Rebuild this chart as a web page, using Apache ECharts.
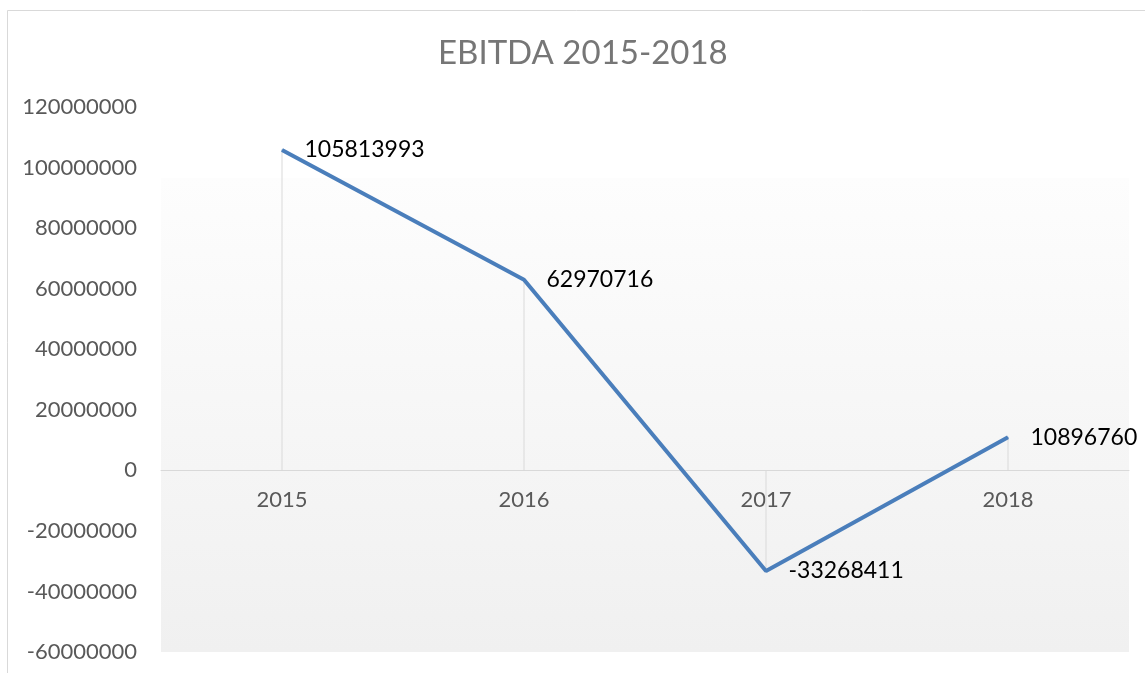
<!DOCTYPE html>
<html>
<head>
<meta charset="utf-8">
<script src="https://cdn.jsdelivr.net/npm/echarts@6/dist/echarts.min.js"></script>
<style>
  html, body { margin: 0; padding: 0; background: #fff; }
  #chart { width: 1145px; height: 673px; }
</style>
</head>
<body>
<div id="chart"></div>
<script>
// EBITDA per year
var years = ['2015', '2016', '2017', '2018'];
var ebitda = [105813993, 62970716, -33268411, 10896760];

var yMin = -60000000;
var yMax = 120000000;
var yStep = 20000000;

var gridTop = 107;
var gridBottom = 21;
var plotH = 673 - gridTop - gridBottom;
// move the category axis up to the zero line
var zeroOffset = -plotH * (0 - yMin) / (yMax - yMin);

var chart = echarts.init(document.getElementById('chart'));

var option = {
  backgroundColor: '#fff',
  animation: false,
  textStyle: { fontFamily: 'Lato' },
  title: {
    text: 'EBITDA 2015-2018',
    left: 433,
    top: 32,
    textStyle: { color: '#767676', fontSize: 33, fontWeight: 'normal', fontFamily: 'Lato' }
  },
  graphic: [{
    type: 'rect',
    shape: { x: 7.5, y: 10.5, width: 1300, height: 800 },
    style: { fill: 'none', stroke: '#d9d9d9', lineWidth: 1 },
    silent: true
  }],
  grid: {
    left: 161,
    right: 16,
    top: gridTop,
    bottom: gridBottom,
    outerBoundsMode: 'none',
    containLabel: false,
    show: true,
    borderWidth: 0,
    backgroundColor: {
      type: 'linear', x: 0, y: 0, x2: 0, y2: 1,
      colorStops: [
        { offset: 0, color: '#ffffff' },
        { offset: 0.13, color: '#ffffff' },
        { offset: 0.131, color: '#fdfdfd' },
        { offset: 1, color: '#f0f0f0' }
      ]
    }
  },
  xAxis: {
    type: 'category',
    data: years,
    boundaryGap: true,
    position: 'bottom',
    offset: zeroOffset,
    axisLine: { onZero: false, lineStyle: { color: '#d9d9d9', width: 1 } },
    axisTick: { show: false },
    axisLabel: { color: '#595959', fontSize: 22, margin: 19 },
    splitLine: { show: false }
  },
  yAxis: {
    type: 'value',
    min: yMin,
    max: yMax,
    interval: yStep,
    axisLine: { show: false },
    axisTick: { show: false },
    splitLine: { show: false },
    axisLabel: {
      color: '#595959',
      fontSize: 22,
      margin: 24,
      formatter: function (v) { return String(v); }
    }
  },
  series: [
    {
      // drop lines
      type: 'bar',
      data: ebitda,
      barWidth: 1,
      silent: true,
      itemStyle: { color: '#d9d9d9' },
      z: 1
    },
    {
      type: 'line',
      data: ebitda,
      symbol: 'circle',
      symbolSize: 1,
      showSymbol: true,
      itemStyle: { color: '#4a7ebb' },
      lineStyle: { color: '#4a7ebb', width: 4 },
      label: {
        show: true,
        position: 'right',
        distance: 22,
        color: '#000',
        fontSize: 23,
        fontFamily: 'Lato'
      },
      z: 3
    }
  ]
};

chart.setOption(option);
</script>
</body>
</html>
